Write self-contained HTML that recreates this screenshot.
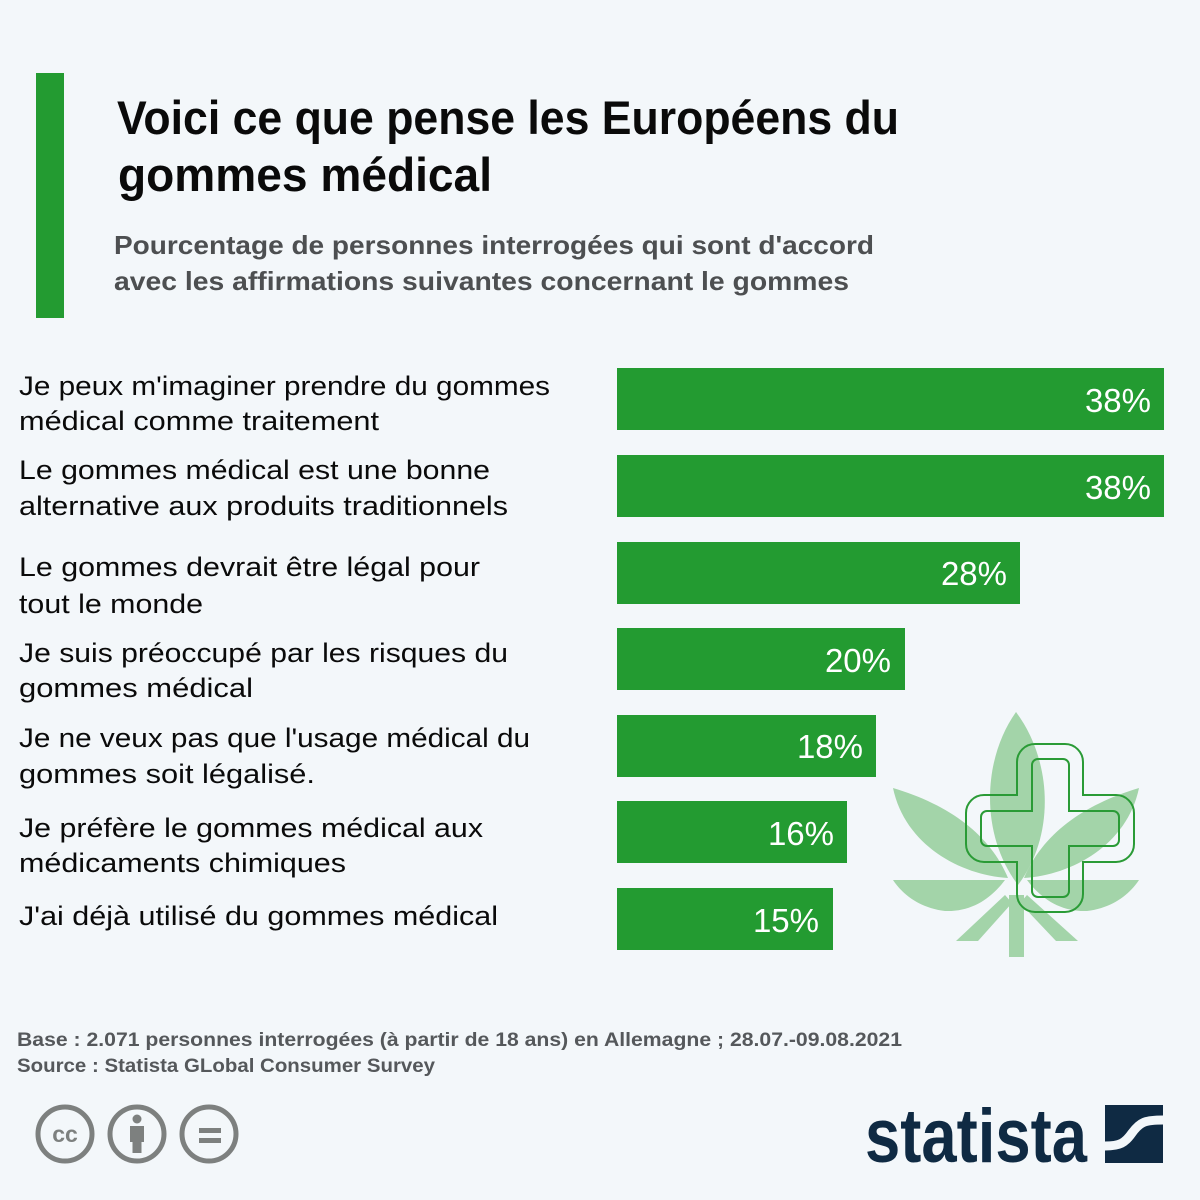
<!DOCTYPE html>
<html><head><meta charset="utf-8"><style>
html,body{margin:0;padding:0;background:#f3f7fa;}
svg{display:block;}
text{font-family:"Liberation Sans",Arial,sans-serif;}
</style></head><body>
<svg width="1200" height="1200" viewBox="0 0 1200 1200" xmlns="http://www.w3.org/2000/svg">
<rect x="0" y="0" width="1200" height="1200" fill="#f3f7fa"/>
<rect x="36" y="73" width="28" height="245" fill="#239b31"/>
<text x="117" y="134" font-size="47" font-weight="bold" fill="#0a0a0a" textLength="782" lengthAdjust="spacingAndGlyphs">Voici ce que pense les Européens du</text>
<text x="118" y="191" font-size="47" font-weight="bold" fill="#0a0a0a" textLength="374" lengthAdjust="spacingAndGlyphs">gommes médical</text>
<text x="114" y="254" font-size="26" font-weight="bold" fill="#4d4f51" textLength="760" lengthAdjust="spacingAndGlyphs">Pourcentage de personnes interrogées qui sont d'accord</text>
<text x="114" y="290" font-size="26" font-weight="bold" fill="#4d4f51" textLength="735" lengthAdjust="spacingAndGlyphs">avec les affirmations suivantes concernant le gommes</text>

<!-- leaf -->
<g fill="#a3d4a9">
<path d="M1016,712 C1052,760 1056,835 1018,885 C980,835 982,760 1016,712 Z"/>
<path d="M893,788 C950,805 990,835 1008,878 C960,875 905,845 893,788 Z"/>
<path d="M1139,788 C1082,805 1042,835 1024,878 C1072,875 1127,845 1139,788 Z"/>
<path d="M893,880 L1005,880 C990,900 970,912 945,911 C920,908 903,895 893,880 Z"/>
<path d="M1139,880 L1027,880 C1042,900 1062,912 1087,911 C1112,908 1129,895 1139,880 Z"/>
<path d="M956,941 L1005,895 L1012,903 L978,941 Z"/>
<path d="M1078,941 L1027,895 L1020,903 L1056,941 Z"/>
<rect x="1009" y="895" width="15" height="62"/>
</g>
<g fill="none" stroke="#2a9b36" stroke-width="2">
<path d="M1035,744 H1065 A18,18 0 0 1 1083,762 V795 H1116 A18,18 0 0 1 1134,813 V844 A18,18 0 0 1 1116,862 H1083 V894 A18,18 0 0 1 1065,912 H1035 A18,18 0 0 1 1017,894 V862 H984 A18,18 0 0 1 966,844 V813 A18,18 0 0 1 984,795 H1017 V762 A18,18 0 0 1 1035,744 Z"/>
<path d="M1038,759 H1063 A6,6 0 0 1 1069,765 V811 H1113 A6,6 0 0 1 1119,817 V840 A6,6 0 0 1 1113,846 H1069 V891 A6,6 0 0 1 1063,897 H1038 A6,6 0 0 1 1032,891 V846 H987 A6,6 0 0 1 981,840 V817 A6,6 0 0 1 987,811 H1032 V765 A6,6 0 0 1 1038,759 Z"/>
</g>

<!-- bars -->
<g fill="#239b31">
<rect x="617" y="368" width="547" height="62"/>
<rect x="617" y="455" width="547" height="62"/>
<rect x="617" y="542" width="403" height="62"/>
<rect x="617" y="628" width="288" height="62"/>
<rect x="617" y="715" width="259" height="62"/>
<rect x="617" y="801" width="230" height="62"/>
<rect x="617" y="888" width="216" height="62"/>
</g>
<g fill="#ffffff" font-size="33" text-anchor="end">
<text x="1151" y="412">38%</text>
<text x="1151" y="499">38%</text>
<text x="1007" y="585">28%</text>
<text x="891" y="672">20%</text>
<text x="863" y="758">18%</text>
<text x="834" y="845">16%</text>
<text x="819" y="932">15%</text>
</g>

<!-- labels -->
<g fill="#0a0a0a" font-size="27">
<text x="19" y="395" textLength="531" lengthAdjust="spacingAndGlyphs">Je peux m'imaginer prendre du gommes</text>
<text x="19" y="430" textLength="360" lengthAdjust="spacingAndGlyphs">médical comme traitement</text>
<text x="19" y="479" textLength="471" lengthAdjust="spacingAndGlyphs">Le gommes médical est une bonne</text>
<text x="19" y="515" textLength="489" lengthAdjust="spacingAndGlyphs">alternative aux produits traditionnels</text>
<text x="19" y="576" textLength="461" lengthAdjust="spacingAndGlyphs">Le gommes devrait être légal pour</text>
<text x="19" y="613" textLength="184" lengthAdjust="spacingAndGlyphs">tout le monde</text>
<text x="19" y="662" textLength="489" lengthAdjust="spacingAndGlyphs">Je suis préoccupé par les risques du</text>
<text x="19" y="697" textLength="234" lengthAdjust="spacingAndGlyphs">gommes  médical</text>
<text x="19" y="747" textLength="511" lengthAdjust="spacingAndGlyphs">Je ne veux pas que l'usage médical du</text>
<text x="19" y="783" textLength="296" lengthAdjust="spacingAndGlyphs">gommes  soit légalisé.</text>
<text x="19" y="837" textLength="464" lengthAdjust="spacingAndGlyphs">Je préfère le  gommes  médical aux</text>
<text x="19" y="872" textLength="327" lengthAdjust="spacingAndGlyphs">médicaments chimiques</text>
<text x="19" y="925" textLength="479" lengthAdjust="spacingAndGlyphs">J'ai déjà utilisé du  gommes  médical</text>
</g>

<!-- footer -->
<g fill="#55585b" font-size="19" font-weight="bold">
<text x="17" y="1046" textLength="885" lengthAdjust="spacingAndGlyphs">Base : 2.071 personnes interrogées (à partir de 18 ans) en Allemagne ; 28.07.-09.08.2021</text>
<text x="17" y="1072" textLength="418" lengthAdjust="spacingAndGlyphs">Source : Statista GLobal Consumer Survey</text>
</g>

<!-- CC icons -->
<g fill="none" stroke="#7d807f" stroke-width="5">
<circle cx="65" cy="1134" r="27"/>
<circle cx="137" cy="1134" r="27"/>
<circle cx="209" cy="1134" r="27"/>
</g>
<text x="65" y="1142" font-size="23" font-weight="bold" fill="#7d807f" text-anchor="middle">cc</text>
<g fill="#7d807f">
<circle cx="137" cy="1119" r="4.5"/>
<path d="M130,1126 H144 V1142 H141.5 V1153 H132.5 V1142 H130 Z"/>
<rect x="199" y="1128" width="22" height="5"/>
<rect x="199" y="1138" width="22" height="5"/>
</g>

<!-- statista logo -->
<text x="865" y="1162" font-size="76" font-weight="bold" fill="#0f2a43" textLength="222" lengthAdjust="spacingAndGlyphs">statista</text>
<rect x="1105" y="1105" width="58" height="58" fill="#0f2a43"/>
<path d="M1105,1146 C1120,1146 1125,1143 1132,1133 C1140,1122 1145,1120 1163,1120" fill="none" stroke="#f3f7fa" stroke-width="9"/>
</svg>
</body></html>
